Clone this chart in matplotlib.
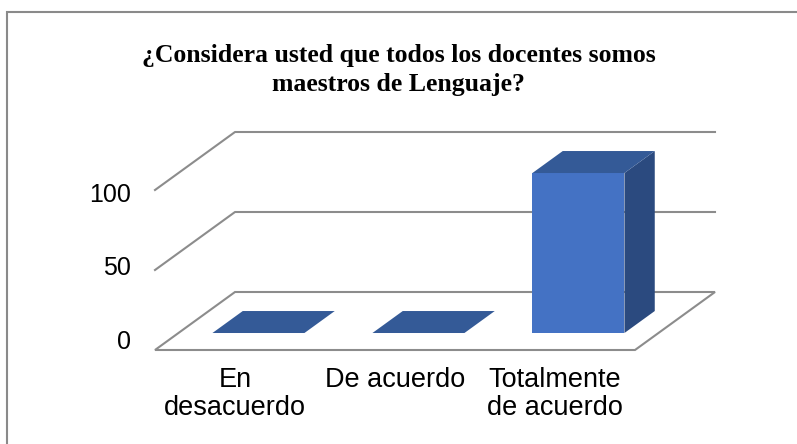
import matplotlib
matplotlib.use("Agg")
import matplotlib.pyplot as plt
from matplotlib.patches import Polygon, Rectangle

# ---- data ----
categories = ["En\ndesacuerdo", "De acuerdo", "Totalmente\nde acuerdo"]
values = [0, 0, 100]
yticks = [0, 50, 100]
title = "¿Considera usted que todos los docentes somos\nmaestros de Lenguaje?"

# ---- styles ----
c_front = "#4472C4"
c_top = "#345A97"
c_side = "#2B4A7F"
c_grid = "#8C8C8C"

W, H = 797, 444
fig = plt.figure(figsize=(W / 100, H / 100), dpi=100)
ax = fig.add_axes([0, 0, 1, 1])
# data units: x = category units, y = value units (oblique projection)
px_per_cat = 160.0
px_per_val = 1.6
x0_px, y0_px = 155.0, 350.0
ax.set_xlim((0 - x0_px) / px_per_cat, (W - x0_px) / px_per_cat)
ax.set_ylim((y0_px - H) / px_per_val, y0_px / px_per_val)
ax.axis("off")

n = len(categories)
DX, DY = 0.5, 36.25          # full depth offset in data units


def proj(x, v, d):
    return (x + DX * d, v + DY * d)


# floor
floor = [proj(0, 0, 0), proj(n, 0, 0), proj(n, 0, 1), proj(0, 0, 1)]
ax.add_patch(Polygon(floor, closed=True, facecolor="white", edgecolor=c_grid, lw=1.5, zorder=1))
# gridlines
for t in yticks[1:]:
    ax.plot(*zip(proj(0, t, 0), proj(0, t, 1), proj(n, t, 1)), color=c_grid, lw=1.5, zorder=1)

# bars
bw = 0.575
d0, d1 = 0.293, 0.672
for i, v in enumerate(values):
    xl = i + 0.5 - bw / 2
    xr = i + 0.5 + bw / 2
    top = [proj(xl, v, d0), proj(xr, v, d0), proj(xr, v, d1), proj(xl, v, d1)]
    if v > 0:
        side = [proj(xr, 0, d0), proj(xr, 0, d1), proj(xr, v, d1), proj(xr, v, d0)]
        front = [proj(xl, 0, d0), proj(xr, 0, d0), proj(xr, v, d0), proj(xl, v, d0)]
        ax.add_patch(Polygon(side, closed=True, facecolor=c_side, edgecolor="none", zorder=3))
        ax.add_patch(Polygon(front, closed=True, facecolor=c_front, edgecolor="none", zorder=3))
    ax.add_patch(Polygon(top, closed=True, facecolor=c_top, edgecolor="none", zorder=3))

# y tick labels
for t in yticks:
    ax.text(-0.15, t + 5 - 0.08 * t, str(t),
            ha="right", va="center", fontsize=18, family="Liberation Sans", color="black")

# category labels
for i, c in enumerate(categories):
    ax.text(i + 0.5, -10.5, c, ha="center", va="top", fontsize=19.5,
            family="Liberation Sans", color="black", linespacing=1.12)

fig.text(0.5, 1 - 70 / H, title, ha="center", va="center", fontsize=18.5,
         family="Liberation Serif", weight="bold", linespacing=1.38)

# chart border
fig.patches.append(Rectangle((7.5 / W, -0.1), 2, (H - 12) / H + 0.1, transform=fig.transFigure,
                             facecolor="none", edgecolor="#8A8A8A", lw=1.5))

fig.savefig("out.png", dpi=100)
